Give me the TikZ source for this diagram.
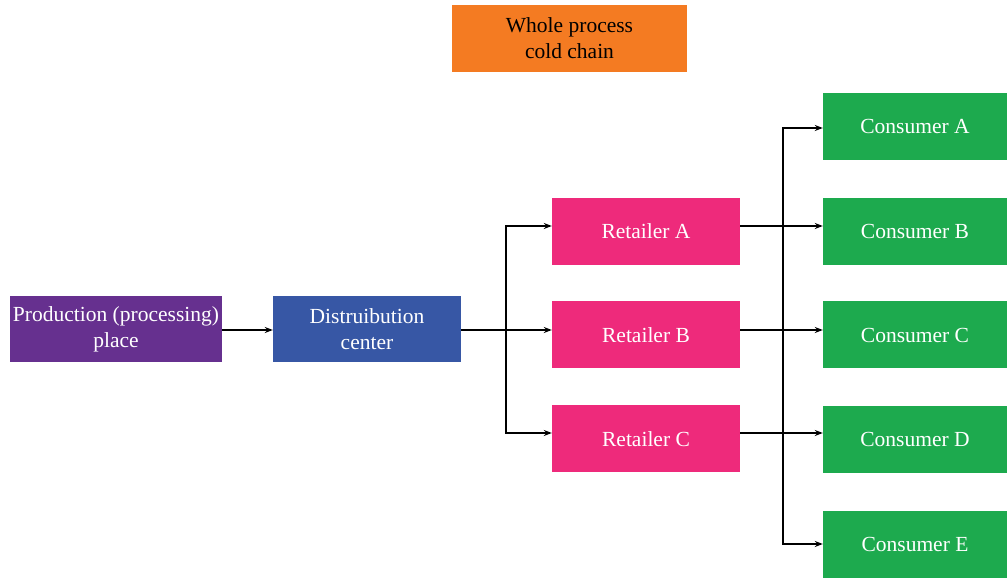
\documentclass[tikz,border=0pt]{standalone}
\usepackage{fontspec}
\setmainfont{Liberation Serif}
\usetikzlibrary{arrows.meta}
\definecolor{corange}{HTML}{F47B22}
\definecolor{cpurple}{HTML}{66308F}
\definecolor{cblue}{HTML}{3757A5}
\definecolor{cpink}{HTML}{EE2A7B}
\definecolor{cgreen}{HTML}{1DAA4E}
\tikzset{
  box/.style={rectangle, inner sep=0pt, align=center, font=\fontsize{21.5}{26}\selectfont, text=white},
  arr/.style={draw=black, line width=1.3pt, -{Stealth[length=8pt,width=6pt]}},
  link/.style={draw=black, line width=1.3pt},
}
\begin{document}
\begin{tikzpicture}[x=1pt,y=1pt]
\useasboundingbox (0,0) rectangle (1007,578);
\node[box, fill=corange, text=black, minimum width=235pt, minimum height=67pt] (title) at (569.5,539.5) {Whole process\\cold chain};
\node[box, fill=cpurple, minimum width=212pt, minimum height=66pt] (prod) at (116,249) {Production (processing)\\place};
\node[box, fill=cblue, minimum width=188pt, minimum height=66pt] (dist) at (367,249) {Distruibution\\center};
\node[box, fill=cpink, minimum width=188pt, minimum height=67pt] (rA) at (646,346.5) {Retailer A};
\node[box, fill=cpink, minimum width=188pt, minimum height=67pt] (rB) at (646,243) {Retailer B};
\node[box, fill=cpink, minimum width=188pt, minimum height=67pt] (rC) at (646,139) {Retailer C};
\node[box, fill=cgreen, minimum width=184pt, minimum height=67pt] (cA) at (915,451.5) {Consumer A};
\node[box, fill=cgreen, minimum width=184pt, minimum height=67pt] (cB) at (915,346.5) {Consumer B};
\node[box, fill=cgreen, minimum width=184pt, minimum height=67pt] (cC) at (915,243) {Consumer C};
\node[box, fill=cgreen, minimum width=184pt, minimum height=67pt] (cD) at (915,138.5) {Consumer D};
\node[box, fill=cgreen, minimum width=184pt, minimum height=67pt] (cE) at (915,33.5) {Consumer E};
% production to distribution
\draw[arr] ([yshift=-1pt]prod.east) -- ([yshift=-1pt]dist.west);
% distribution bus
\coordinate (jd) at (506,248);
\draw[arr] ([yshift=-1pt]dist.east) -- (rB.west |- jd);
\draw[arr] (jd) |- ([yshift=5.5pt]rA.west);
\draw[arr] (jd) |- ([yshift=6pt]rC.west);
% retailers to consumers
\draw[arr] ([yshift=5.5pt]rA.east) -- ([yshift=5.5pt]cB.west);
\draw[arr] ([yshift=5pt]rB.east) -- ([yshift=5pt]cC.west);
\draw[arr] ([yshift=6pt]rC.east) -- ([yshift=6.5pt]cD.west);
% consumer bus
\coordinate (jc) at (783,352);
\draw[link] (jc) -- (783,145);
\draw[arr] (jc) |- ([yshift=-1.5pt]cA.west);
\draw[arr] (783,145) |- ([yshift=0.5pt]cE.west);
\end{tikzpicture}
\end{document}
